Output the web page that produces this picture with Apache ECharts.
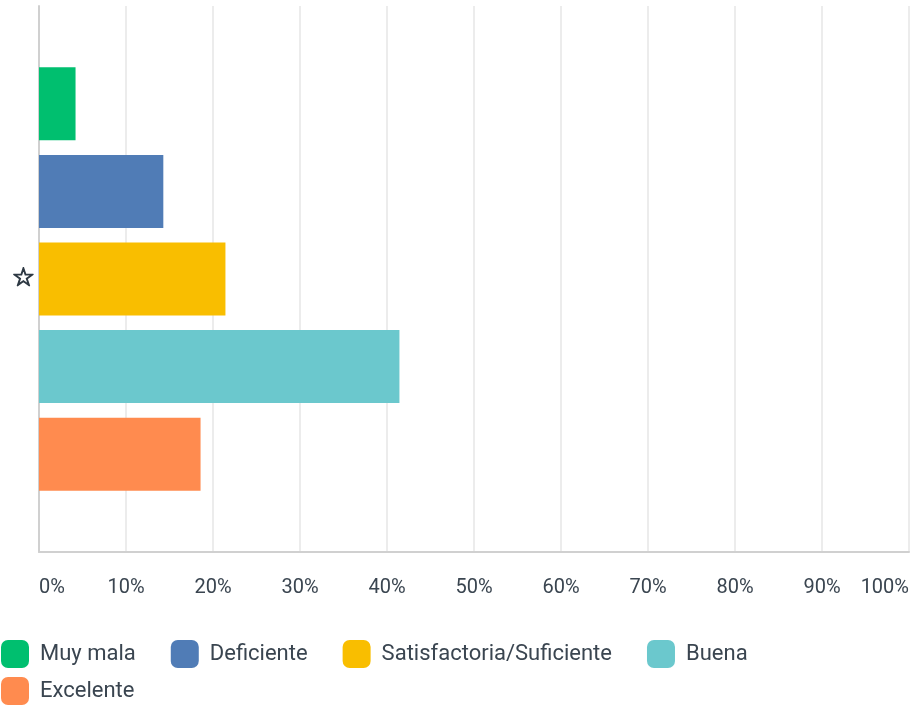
<!DOCTYPE html>
<html>
<head>
<meta charset="utf-8">
<script src="https://cdn.jsdelivr.net/npm/echarts@6/dist/echarts.min.js"></script>
<style>html,body{margin:0;padding:0;background:#fff}#c{width:914px;height:706px}</style>
</head>
<body>
<div id="c"></div>
<script>
const categories = ['☆'];
const seriesNames = ['Muy mala', 'Deficiente', 'Satisfactoria/Suficiente', 'Buena', 'Excelente'];
const seriesValues = [4.2, 14.29, 21.43, 41.43, 18.57];
const seriesColors = ['#00bf6f', '#507cb6', '#f9be00', '#6bc8cd', '#ff8b4f'];
const xTicks = { min: 0, max: 100, interval: 10 };

const textColor = '#3a4550';
const chart = echarts.init(document.getElementById('c'));
const legendBase = {
  left: 1, orient: 'horizontal', padding: 0,
  icon: 'roundRect', itemWidth: 28, itemHeight: 28, itemGap: 35,
  textStyle: { color: textColor, fontSize: 22, fontFamily: 'Roboto', padding: [0, 0, 0, 6] }
};
chart.setOption({
  animation: false,
  grid: { left: 39, right: 5, top: 6, bottom: 154, containLabel: false },
  xAxis: {
    type: 'value', min: xTicks.min, max: xTicks.max, interval: xTicks.interval,
    axisLine: { show: true, lineStyle: { color: '#d0d0d0', width: 2 } },
    axisTick: { show: false },
    splitLine: { show: true, lineStyle: { color: '#ececec', width: 2 } },
    axisLabel: {
      formatter: '{value}%', color: textColor, fontSize: 20, fontFamily: 'Roboto',
      margin: 26, alignMinLabel: 'left', alignMaxLabel: 'right'
    }
  },
  yAxis: {
    type: 'category', data: categories, inverse: true,
    axisLine: { show: true, lineStyle: { color: '#d0d0d0', width: 2 } },
    axisTick: { show: false },
    axisLabel: {
      color: '#2f3a44', fontSize: 26, fontWeight: 'bold', fontFamily: 'DejaVu Sans', margin: 4,
      textBorderColor: '#2f3a44', textBorderWidth: 1.2
    }
  },
  legend: [
    Object.assign({}, legendBase, { data: seriesNames.slice(0, 4), top: 640 }),
    Object.assign({}, legendBase, { data: seriesNames.slice(4), top: 677 })
  ],
  series: seriesNames.map((name, i) => ({
    name: name, type: 'bar', data: [seriesValues[i]],
    barWidth: 73, barGap: '20%',
    itemStyle: { color: seriesColors[i] },
    emphasis: { disabled: true }
  }))
});
</script>
</body>
</html>
